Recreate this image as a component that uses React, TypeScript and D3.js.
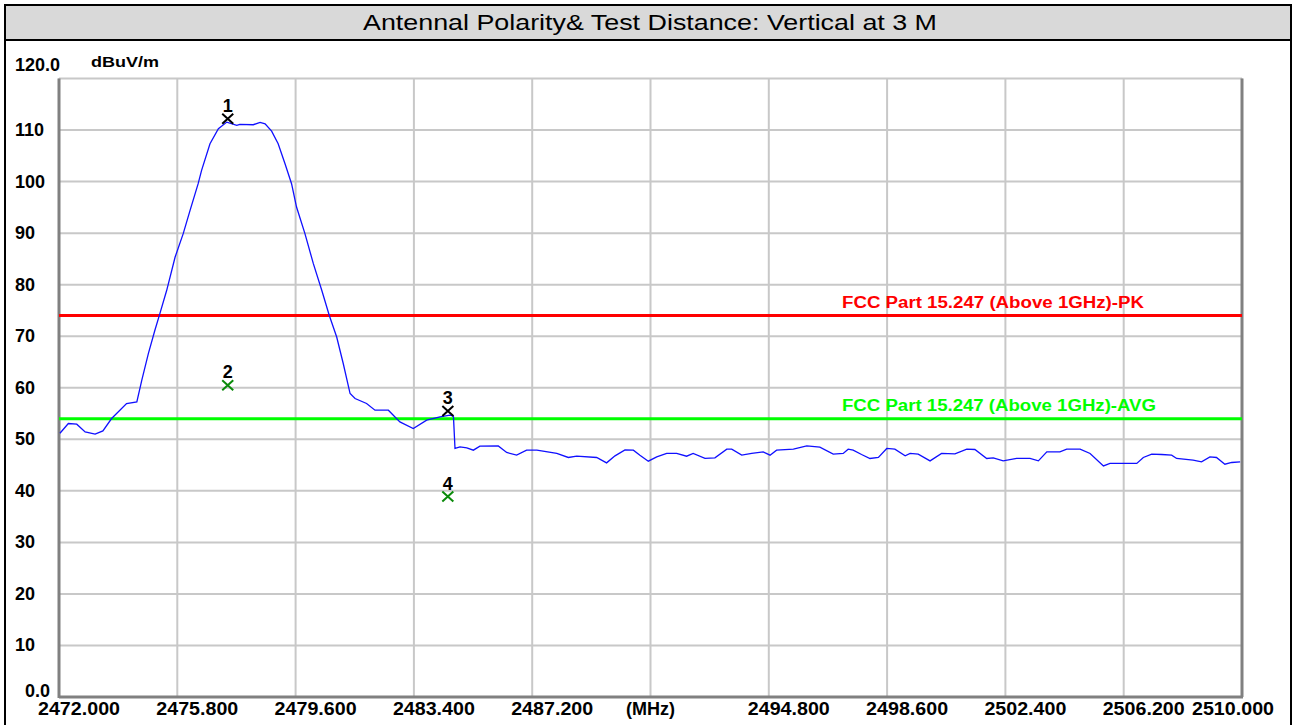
import React, { useEffect, useRef } from "react";
import * as d3 from "d3";

const titleText = "Antennal Polarity& Test Distance: Vertical at 3 M";
const unitText = "dBuV/m";

const xTicks = [2472, 2475.8, 2479.6, 2483.4, 2487.2, 2491, 2494.8, 2498.6, 2502.4, 2506.2, 2510];
const xTickLabels = [
  "2472.000", "2475.800", "2479.600", "2483.400", "2487.200", "(MHz)",
  "2494.800", "2498.600", "2502.400", "2506.200", "2510.000"
];
const yTicks = [0, 10, 20, 30, 40, 50, 60, 70, 80, 90, 100, 110, 120];
const yTickLabels = ["0.0", "10", "20", "30", "40", "50", "60", "70", "80", "90", "100", "110", "120.0"];

// spectrum trace (MHz, dBuV/m)
const traceFreq = [
  2472.03, 2472.30, 2472.57, 2472.84, 2473.16, 2473.41, 2473.69, 2474.17, 2474.50, 2474.66,
  2474.87, 2475.08, 2475.24, 2475.46, 2475.73, 2475.99, 2476.21, 2476.47, 2476.58, 2476.85,
  2477.12, 2477.39, 2477.71, 2477.81, 2478.24, 2478.46, 2478.62, 2478.83, 2479.04, 2479.26,
  2479.47, 2479.63, 2479.90, 2480.17, 2480.44, 2480.68, 2480.92, 2481.13, 2481.35, 2481.51,
  2481.88, 2482.15, 2482.58, 2482.95, 2483.38, 2483.81, 2484.24, 2484.56, 2484.67, 2484.72,
  2484.88, 2485.10, 2485.31, 2485.52, 2486.11, 2486.38, 2486.70, 2487.02, 2487.35, 2487.99,
  2488.36, 2488.63, 2489.27, 2489.59, 2489.86, 2490.18, 2490.45, 2490.66, 2490.93, 2491.20,
  2491.52, 2491.84, 2492.16, 2492.37, 2492.75, 2493.07, 2493.45, 2493.61, 2493.93, 2494.25,
  2494.62, 2494.84, 2495.05, 2495.59, 2496.02, 2496.44, 2496.87, 2497.19, 2497.35, 2497.51,
  2497.78, 2498.05, 2498.32, 2498.59, 2498.85, 2499.18, 2499.34, 2499.60, 2499.98, 2500.35,
  2500.78, 2501.16, 2501.42, 2501.80, 2502.01, 2502.33, 2502.76, 2503.19, 2503.46, 2503.73,
  2504.15, 2504.37, 2504.80, 2505.12, 2505.55, 2505.76, 2506.08, 2506.62, 2506.83, 2507.10,
  2507.42, 2507.74, 2507.90, 2508.43, 2508.70, 2508.97, 2509.18, 2509.45, 2509.67, 2509.94
];
const traceLevel = [
  51.18, 53.06, 52.93, 51.43, 50.99, 51.63, 54.03, 56.94, 57.25, 61.46,
  66.63, 71.15, 74.39, 78.91, 85.36, 89.90, 94.42, 99.59, 102.17, 107.35,
  110.26, 111.54, 110.90, 111.09, 111.03, 111.48, 111.22, 109.79, 107.35, 103.47,
  99.59, 95.06, 89.90, 84.08, 78.91, 74.06, 69.85, 64.70, 58.88, 57.91,
  56.94, 55.64, 55.64, 53.37, 52.09, 53.70, 54.34, 54.67, 54.50, 48.22,
  48.53, 48.33, 47.89, 48.66, 48.72, 47.44, 46.92, 47.89, 47.89, 47.25,
  46.47, 46.72, 46.47, 45.43, 46.79, 47.95, 47.89, 46.92, 45.75, 46.59,
  47.25, 47.25, 46.72, 47.25, 46.28, 46.39, 48.08, 48.08, 46.92, 47.25,
  47.56, 46.92, 47.89, 48.08, 48.72, 48.47, 47.11, 47.25, 48.08, 47.89,
  47.05, 46.28, 46.47, 48.22, 48.08, 46.79, 47.25, 47.11, 45.81, 47.25,
  47.17, 48.08, 48.02, 46.28, 46.39, 45.81, 46.28, 46.28, 45.81, 47.56,
  47.56, 48.08, 48.08, 47.25, 44.84, 45.31, 45.31, 45.31, 46.47, 47.11,
  47.05, 46.92, 46.28, 45.95, 45.62, 46.59, 46.47, 45.17, 45.50, 45.62
];

const limitNames = ["FCC Part 15.247 (Above 1GHz)-PK", "FCC Part 15.247 (Above 1GHz)-AVG"];
const limitLevels = [74, 54];
const limitColors = ["#ff0000", "#00ff00"];

const markerNames = ["1", "2", "3", "4"];
const markerFreq = [2477.42, 2477.42, 2484.49, 2484.49];
const markerLevel = [112.2, 60.5, 55.5, 38.9];
const markerColors = ["#000000", "#0a8a0a", "#000000", "#0a8a0a"];

const W = 1296;
const H = 725;
const font = "Arial, 'Liberation Sans', sans-serif";

export default function App() {
  const ref = useRef<SVGSVGElement>(null);

  useEffect(() => {
    const svg = d3.select(ref.current);
    svg.selectAll("*").remove();

    const x = d3.scaleLinear().domain([2472, 2510]).range([59, 1242]);
    const y = d3.scaleLinear().domain([0, 120]).range([697, 78.5]);

    svg.append("rect").attr("width", W).attr("height", H).attr("fill", "#fff");

    // title bar
    svg.append("rect")
      .attr("x", 5).attr("y", 5).attr("width", 1286).attr("height", 35)
      .attr("fill", "#d9d9d9");
    svg.append("line")
      .attr("x1", 5).attr("x2", 1291).attr("y1", 40).attr("y2", 40)
      .attr("stroke", "#000").attr("stroke-width", 2);
    svg.append("rect")
      .attr("x", 5).attr("y", 5).attr("width", 1286).attr("height", 740)
      .attr("fill", "none").attr("stroke", "#000").attr("stroke-width", 2);
    svg.append("text")
      .attr("x", 650).attr("y", 30)
      .attr("text-anchor", "middle")
      .attr("font-family", font).attr("font-size", 22)
      .attr("textLength", 574).attr("lengthAdjust", "spacingAndGlyphs")
      .text(titleText);

    const g = svg.append("g");

    // grid
    g.selectAll(".vgrid").data(xTicks).join("line")
      .attr("x1", (d) => x(d)).attr("x2", (d) => x(d))
      .attr("y1", y(120)).attr("y2", y(0))
      .attr("stroke", "#c8c8c8").attr("stroke-width", 2);
    g.selectAll(".hgrid").data(yTicks).join("line")
      .attr("x1", x(2472)).attr("x2", x(2510))
      .attr("y1", (d) => y(d)).attr("y2", (d) => y(d))
      .attr("stroke", "#c8c8c8").attr("stroke-width", 2);

    // frame
    g.append("line")
      .attr("x1", x(2472)).attr("x2", x(2472)).attr("y1", y(120)).attr("y2", y(0) + 1)
      .attr("stroke", "#808080").attr("stroke-width", 3);
    g.append("line")
      .attr("x1", x(2472)).attr("x2", x(2510) + 1).attr("y1", y(0)).attr("y2", y(0))
      .attr("stroke", "#808080").attr("stroke-width", 3);
    g.append("line")
      .attr("x1", x(2510)).attr("x2", x(2510)).attr("y1", y(120)).attr("y2", y(0))
      .attr("stroke", "#808080").attr("stroke-width", 3);

    // limit lines
    limitLevels.forEach((lv, i) => {
      g.append("line")
        .attr("x1", x(2472)).attr("x2", x(2510))
        .attr("y1", y(lv)).attr("y2", y(lv))
        .attr("stroke", limitColors[i]).attr("stroke-width", 3);
      g.append("text")
        .attr("x", 842).attr("y", y(lv) - 8)
        .attr("font-family", font).attr("font-size", 16).attr("font-weight", "bold")
        .attr("fill", limitColors[i])
        .attr("textLength", i === 0 ? 302 : 314).attr("lengthAdjust", "spacingAndGlyphs")
        .text(limitNames[i]);
    });

    // trace
    const pts: [number, number][] = traceFreq.map((f, i) => [f, traceLevel[i]]);
    g.append("path")
      .datum(pts)
      .attr("fill", "none")
      .attr("stroke", "#1010ff")
      .attr("stroke-width", 1.3)
      .attr("d", d3.line<[number, number]>().x((d) => x(d[0])).y((d) => y(d[1])));

    // markers
    markerNames.forEach((m, i) => {
      const cx = x(markerFreq[i]);
      const cy = y(markerLevel[i]);
      g.append("path")
        .attr("d", `M${cx - 5.5},${cy - 5}L${cx + 5.5},${cy + 5}M${cx + 5.5},${cy - 5}L${cx - 5.5},${cy + 5}`)
        .attr("stroke", markerColors[i]).attr("stroke-width", 2).attr("fill", "none");
      g.append("text")
        .attr("x", cx).attr("y", cy - 7)
        .attr("text-anchor", "middle")
        .attr("font-family", font).attr("font-size", 18).attr("font-weight", "bold")
        .text(m);
    });

    // y axis labels
    yTicks.forEach((t, i) => {
      let lx = 15;
      let ly = y(t) + 6;
      if (t === 0) { lx = 25; ly = y(t); }
      if (t === 120) { ly = y(t) - 8; }
      svg.append("text")
        .attr("x", lx).attr("y", ly)
        .attr("font-family", font).attr("font-size", 18).attr("font-weight", "bold")
        .text(yTickLabels[i]);
    });
    svg.append("text")
      .attr("x", 91).attr("y", 67)
      .attr("font-family", font).attr("font-size", 15).attr("font-weight", "bold")
      .attr("textLength", 68).attr("lengthAdjust", "spacingAndGlyphs")
      .text(unitText);

    // x axis labels
    xTicks.forEach((t, i) => {
      const lab = xTickLabels[i];
      const el = svg.append("text")
        .attr("y", 715)
        .attr("font-family", font).attr("font-size", 18).attr("font-weight", "bold")
        .text(lab);
      if (lab === "(MHz)") {
        el.attr("x", x(t)).attr("text-anchor", "middle");
      } else {
        const lx = i === xTicks.length - 1 ? x(t) - 50 : x(t) - 21;
        el.attr("x", lx).attr("textLength", 82).attr("lengthAdjust", "spacingAndGlyphs");
      }
    });
  }, []);

  return (
    <svg
      ref={ref}
      width={W}
      height={H}
      style={{ position: "absolute", left: 0, top: 0, display: "block" }}
    />
  );
}
